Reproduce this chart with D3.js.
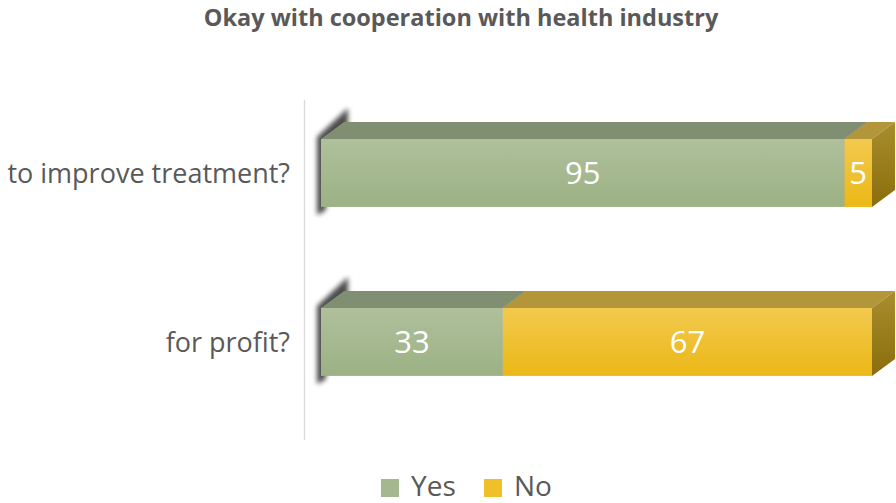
<!DOCTYPE html>
<html><head><meta charset="utf-8">
<script src="https://cdn.jsdelivr.net/npm/d3@7"></script>
<style>body{margin:0;background:#fff}svg{display:block}</style>
</head><body>
<svg id="c" width="896" height="503"></svg>
<script>
const categories = ["to improve treatment?", "for profit?"];
const seriesNames = ["Yes", "No"];
const yesValues = [95, 33];
const noValues = [5, 67];
const title = "Okay with cooperation with health industry";

const svg = d3.select("#c");
const FONT = "'Open Sans', 'Noto Sans', sans-serif";
const x = d3.scaleLinear().domain([0, 100]).range([321, 872]);
const y = d3.scaleBand().domain(categories).range([105.2, 409.7]).paddingInner(0.598).paddingOuter(0.2);
const DX = 23, DY = -17;

const colors = {
  Yes: {front: ["#afc09c", "#9cb184"], top: "#808e72", side: ["#7d8c6c", "#6b7a5a"], legend: "#a4b78e"},
  No: {front: ["#f2c94e", "#ebb816"], top: "#b3953a", side: ["#a98e2e", "#8a6d0c"], legend: "#f0c02a"}
};

const defs = svg.append("defs");
seriesNames.forEach(s => {
  const g = defs.append("linearGradient").attr("id", "f" + s).attr("x1", 0).attr("y1", 0).attr("x2", 0).attr("y2", 1);
  g.append("stop").attr("offset", "0%").attr("stop-color", colors[s].front[0]);
  g.append("stop").attr("offset", "100%").attr("stop-color", colors[s].front[1]);
  const gs = defs.append("linearGradient").attr("id", "s" + s).attr("x1", 0).attr("y1", 0).attr("x2", 0).attr("y2", 1);
  gs.append("stop").attr("offset", "0%").attr("stop-color", colors[s].side[0]);
  gs.append("stop").attr("offset", "100%").attr("stop-color", colors[s].side[1]);
});
defs.append("filter").attr("id", "blur").attr("x", "-50%").attr("y", "-50%").attr("width", "200%").attr("height", "200%")
  .append("feGaussianBlur").attr("stdDeviation", 2.5);

// title
svg.append("text").attr("x", 461).attr("y", 26).attr("text-anchor", "middle")
  .attr("font-family", FONT).attr("font-weight", "bold").attr("font-size", 23.5).attr("fill", "#595959").text(title);

// vertical axis line
svg.append("line").attr("x1", 304.5).attr("x2", 304.5).attr("y1", 100).attr("y2", 440)
  .attr("stroke", "#d9d9d9").attr("stroke-width", 1.3);

const data = categories.map((c, i) => ({cat: c, segs: [
  {s: "Yes", v0: 0, v1: yesValues[i], v: yesValues[i]},
  {s: "No", v0: yesValues[i], v1: yesValues[i] + noValues[i], v: noValues[i]}
]}));

data.forEach(d => {
  const y0 = y(d.cat), h = y.bandwidth();
  const g = svg.append("g");
  const x0 = x(0);
  g.append("path")
    .attr("d", `M${x0 - 4},${y0 - 2} L${x0 + DX + 4},${y0 + DY - 14} L${x0 + DX + 4},${y0 + DY + 4} L${x0 + 4},${y0 + h + 4} L${x0 - 4},${y0 + h + 8} Z`)
    .attr("fill", "#000").attr("opacity", 0.7).attr("filter", "url(#blur)");
  d.segs.forEach(sg => {
    const xa = x(sg.v0), xb = x(sg.v1);
    g.append("path").attr("d", `M${xa},${y0} L${xa + DX},${y0 + DY} L${xb + DX},${y0 + DY} L${xb},${y0} Z`)
      .attr("fill", colors[sg.s].top);
    g.append("rect").attr("x", xa).attr("y", y0).attr("width", xb - xa).attr("height", h)
      .attr("fill", `url(#f${sg.s})`);
    g.append("path").attr("d", `M${xb},${y0} L${xb + DX},${y0 + DY} L${xb + DX},${y0 + h + DY} L${xb},${y0 + h} Z`)
      .attr("fill", `url(#s${sg.s})`);
  });
  d.segs.forEach(sg => {
    g.append("text").attr("x", (x(sg.v0) + x(sg.v1)) / 2).attr("y", y0 + h / 2 + 11.5)
      .attr("text-anchor", "middle").attr("font-family", FONT).attr("font-size", 31).attr("fill", "#fff").text(sg.v);
  });
  svg.append("text").attr("x", 290).attr("y", y0 + h / 2 + 10).attr("text-anchor", "end")
    .attr("font-family", FONT).attr("font-size", 27).attr("fill", "#595959").text(d.cat);
});

// legend
const leg = svg.append("g");
const legX = [381, 484];
seriesNames.forEach((s, i) => {
  leg.append("rect").attr("x", legX[i]).attr("y", 479).attr("width", 18).attr("height", 18).attr("fill", colors[s].legend);
  leg.append("text").attr("x", legX[i] + 30).attr("y", 495.5).attr("font-family", FONT).attr("font-size", 28)
    .attr("fill", "#595959").text(s);
});
</script>
</body></html>
